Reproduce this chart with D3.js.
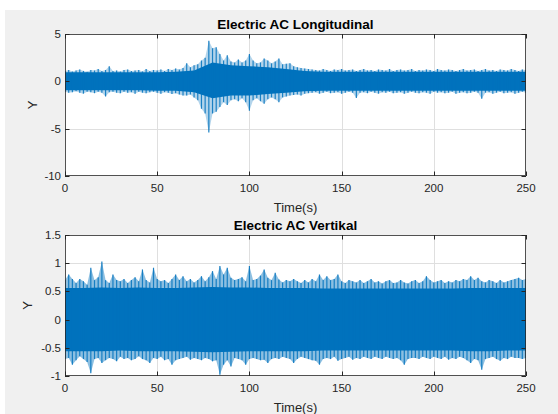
<!DOCTYPE html>
<html><head><meta charset="utf-8">
<script src="https://cdn.jsdelivr.net/npm/d3@7"></script>
<style>body{margin:0;background:#fff;}svg{display:block;}</style>
</head><body>
<script>
// ---------- DATA ----------
const timeDomain = [0, 250];
const xTicks = [0, 50, 100, 150, 200, 250];
const coreTimes = d3.range(0, 251, 10);          // knots of the dense core band (s)
const fringeTimes = d3.range(0, 251, 2);         // knots of the fringe peaks (s)

// Plot 1: Electric AC Longitudinal
const topTitle = "Electric AC Longitudinal";
const topYTicks = [-10, -5, 0, 5];
const topCoreHi = [0.95,0.95,0.95,0.95,0.95,0.95,1.0,1.15,2.0,1.7,1.6,1.5,1.3,1.1,1.0,1.0,1.0,1.0,1.0,1.0,1.0,1.0,1.0,1.0,1.0,1.0];
const topCoreLo = [-0.95,-0.95,-0.95,-0.95,-0.95,-1.0,-1.0,-1.15,-1.8,-1.5,-1.5,-1.35,-1.2,-1.05,-1.0,-1.0,-1.0,-1.0,-1.0,-1.0,-1.0,-1.0,-1.0,-1.0,-1.0,-1.0];
const topPeakHi = [1.1,1.2,1.05,1.15,1.25,1.1,1.0,1.2,1.15,1.3,1.1,1.2,1.6,1.1,1.15,1.05,1.2,1.25,1.1,1.15,1.2,1.05,1.3,1.1,1.2,1.15,1.25,1.1,1.3,1.2,1.35,1.25,1.4,
  1.9,1.5,1.7,1.8,2.2,2.5,4.3,
  3.5,3.6,2.9,2.2,2.75,2.1,2.0,2.3,2.0,2.2,2.9,
  2.2,1.9,2.0,2.4,2.2,1.9,2.1,2.4,1.8,1.85,1.9,1.6,1.5,1.4,1.35,
  1.3,1.25,1.2,1.15,1.3,1.2,1.1,1.25,1.2,1.3,1.15,1.2,1.25,1.1,1.2,1.3,1.15,1.2,1.1,1.25,1.2,1.15,1.3,1.1,1.2,1.25,1.15,1.2,1.3,1.1,
  1.2,1.15,1.25,1.2,1.1,1.3,1.2,1.15,1.25,1.2,1.1,1.2,1.3,1.15,1.2,1.25,1.1,1.2,1.3,1.15,1.2,1.1,1.25,1.2,1.15,1.3,1.2,1.1,1.25,1.2];
const topPeakLo = [-1.1,-1.2,-1.15,-1.05,-1.2,-1.3,-1.1,-1.15,-1.25,-1.1,-1.2,-1.6,-1.15,-1.1,-1.2,-1.25,-1.1,-1.2,-1.15,-1.3,-1.1,-1.2,-1.25,-1.15,-1.1,-1.2,-1.3,-1.15,-1.2,-1.35,-1.25,-1.4,-1.5,
  -1.5,-1.4,-1.7,-2.0,-2.9,-3.4,-5.4,
  -3.4,-3.2,-2.7,-2.2,-2.5,-2.0,-1.9,-2.1,-1.8,-2.2,-3.1,
  -2.0,-1.8,-2.1,-2.36,-1.9,-1.7,-1.9,-2.2,-1.7,-1.6,-1.5,-1.45,-1.4,-1.5,-1.3,
  -1.25,-1.2,-1.15,-1.3,-1.2,-1.1,-1.25,-1.2,-1.15,-1.3,-1.2,-1.1,-1.2,-1.76,-1.2,-1.15,-1.25,-1.1,-1.2,-1.3,-1.15,-1.2,-1.1,-1.25,-1.2,-1.15,-1.3,-1.2,-1.1,-1.2,
  -1.25,-1.15,-1.2,-1.3,-1.1,-1.2,-1.15,-1.25,-1.2,-1.1,-1.3,-1.2,-1.15,-1.25,-1.2,-1.1,-1.2,-1.83,-1.2,-1.15,-1.3,-1.2,-1.1,-1.25,-1.2,-1.15,-1.3,-1.2,-1.1,-1.2];

// Plot 2: Electric AC Vertikal
const botTitle = "Electric AC Vertikal";
const botYTicks = [-1, -0.5, 0, 0.5, 1, 1.5];
const botCoreHi = [0.56,0.56,0.57,0.56,0.57,0.56,0.56,0.57,0.58,0.57,0.57,0.56,0.56,0.56,0.55,0.55,0.55,0.55,0.55,0.55,0.55,0.55,0.56,0.56,0.56,0.56];
const botCoreLo = [-0.56,-0.56,-0.56,-0.55,-0.56,-0.56,-0.56,-0.57,-0.58,-0.57,-0.56,-0.56,-0.56,-0.56,-0.55,-0.55,-0.55,-0.55,-0.55,-0.55,-0.55,-0.55,-0.56,-0.56,-0.55,-0.55];
const botPeakHi = [0.7,0.8,0.72,0.65,0.72,0.68,0.62,0.92,0.7,0.75,1.03,
  0.7,0.65,0.8,0.7,0.68,0.72,0.65,0.7,0.75,0.68,0.89,0.7,0.66,0.92,0.72,0.68,0.7,0.65,0.72,0.8,
  0.7,0.77,0.68,0.72,0.66,0.7,0.77,0.68,0.75,0.86,0.72,0.95,0.8,0.92,0.74,0.7,0.72,0.75,0.68,0.95,
  0.7,0.72,0.78,0.89,0.74,0.7,0.83,0.71,0.66,0.7,0.68,0.72,0.68,0.65,0.7,0.66,0.72,0.68,0.8,0.7,
  0.77,0.7,0.72,0.8,0.68,0.65,0.7,0.68,0.66,0.7,0.65,0.68,0.72,0.66,0.68,0.64,0.68,0.7,0.65,0.66,
  0.7,0.66,0.64,0.68,0.7,0.65,0.68,0.77,0.7,0.66,0.68,0.7,0.65,0.68,0.66,0.7,0.68,0.72,0.7,0.77,
  0.7,0.74,0.68,0.66,0.7,0.68,0.65,0.7,0.66,0.68,0.7,0.72,0.74,0.7,0.72];
const botPeakLo = [-0.7,-0.68,-0.8,-0.72,-0.65,-0.7,-0.75,-0.95,-0.7,-0.68,-0.77,
  -0.72,-0.68,-0.7,-0.74,-0.66,-0.7,-0.68,-0.72,-0.7,-0.65,-0.7,-0.72,-0.77,-0.68,-0.7,-0.66,-0.72,-0.7,-0.8,-0.72,
  -0.7,-0.68,-0.66,-0.71,-0.68,-0.7,-0.72,-0.68,-0.7,-0.74,-0.72,-0.98,-0.8,-0.72,-0.83,-0.68,-0.7,-0.72,-0.8,-0.7,
  -0.68,-0.7,-0.72,-0.71,-0.77,-0.7,-0.68,-0.7,-0.66,-0.68,-0.7,-0.77,-0.7,-0.66,-0.68,-0.7,-0.72,-0.73,-0.8,-0.7,
  -0.68,-0.7,-0.66,-0.73,-0.7,-0.68,-0.66,-0.71,-0.68,-0.7,-0.66,-0.68,-0.7,-0.66,-0.68,-0.7,-0.66,-0.68,-0.7,-0.68,
  -0.72,-0.8,-0.7,-0.68,-0.68,-0.7,-0.66,-0.68,-0.7,-0.66,-0.68,-0.7,-0.66,-0.71,-0.68,-0.7,-0.66,-0.68,-0.72,-0.77,
  -0.7,-0.72,-0.89,-0.7,-0.68,-0.66,-0.7,-0.73,-0.68,-0.7,-0.66,-0.68,-0.68,-0.7,-0.68];

const xLabel = "Time(s)";
const yLabel = "Y";

// ---------- DRAWING ----------
const W = 558, H = 414;
const BLUE = "#0072BD", INK = "#262626", GRID = "#dfdfdf";
const FONT = "'Liberation Sans', Arial, Helvetica, sans-serif";

const svg = d3.select("body").append("svg").attr("width", W).attr("height", H);
svg.append("rect").attr("width", W).attr("height", H).attr("fill", "#fff");
svg.append("rect").attr("x", 5).attr("y", 10).attr("width", W - 5).attr("height", H - 10).attr("fill", "#f0f0f0");

function panel(cfg) {
  const {left, right, top, bottom, yDomain, yTicks, title, coreHi, coreLo, peakHi, peakLo, id, yLabX, fringeOpacity} = cfg;
  const x = d3.scaleLinear().domain(timeDomain).range([left, right]);
  const y = d3.scaleLinear().domain(yDomain).range([bottom, top]);
  const g = svg.append("g");
  g.append("rect").attr("x", left).attr("y", top).attr("width", right - left).attr("height", bottom - top).attr("fill", "#fff");

  // grid
  g.append("g").selectAll("line").data(xTicks.slice(1, -1)).join("line")
    .attr("x1", d => Math.round(x(d)) + 0.5).attr("x2", d => Math.round(x(d)) + 0.5).attr("y1", top).attr("y2", bottom)
    .attr("stroke", GRID).attr("stroke-width", 1);
  g.append("g").selectAll("line").data(yTicks.slice(1, -1)).join("line")
    .attr("y1", d => Math.round(y(d)) + 0.5).attr("y2", d => Math.round(y(d)) + 0.5).attr("x1", left).attr("x2", right)
    .attr("stroke", GRID).attr("stroke-width", 1);

  // data
  svg.append("clipPath").attr("id", id).append("rect")
    .attr("x", left).attr("y", top).attr("width", right - left).attr("height", bottom - top);
  const dg = g.append("g").attr("clip-path", `url(#${id})`);
  const fringe = fringeTimes.map((t, i) => ({t, hi: peakHi[i], lo: peakLo[i]}));
  // lighter fringe zone (peak envelope)
  dg.append("path").datum(fringe)
    .attr("d", d3.area().x(d => x(d.t)).y0(d => y(d.lo)).y1(d => y(d.hi)))
    .attr("fill", BLUE).attr("fill-opacity", fringeOpacity);
  // dense core
  const coreData = coreTimes.map((t, i) => ({t, hi: coreHi[i], lo: coreLo[i]}));
  dg.append("path").datum(coreData)
    .attr("d", d3.area().x(d => x(d.t)).y0(d => y(d.lo)).y1(d => y(d.hi)))
    .attr("fill", BLUE);
  // individual peaks
  dg.append("g").selectAll("line").data(fringe).join("line")
    .attr("x1", d => x(d.t)).attr("x2", d => x(d.t))
    .attr("y1", d => y(d.lo)).attr("y2", d => y(d.hi))
    .attr("stroke", BLUE).attr("stroke-width", 1.2).attr("stroke-opacity", 0.85);

  // frame
  g.append("rect").attr("x", left + 0.5).attr("y", top + 0.5).attr("width", right - left - 1).attr("height", bottom - top - 1)
    .attr("fill", "none").attr("stroke", INK).attr("stroke-opacity", 0.8).attr("stroke-width", 1);

  // ticks (inward, box)
  const tl = 4.5;
  const tk = g.append("g").attr("stroke", INK).attr("stroke-width", 1);
  xTicks.forEach(d => {
    const xx = Math.round(x(d)) + 0.5;
    tk.append("line").attr("x1", xx).attr("x2", xx).attr("y1", bottom).attr("y2", bottom - tl);
    tk.append("line").attr("x1", xx).attr("x2", xx).attr("y1", top).attr("y2", top + tl);
  });
  yTicks.forEach(d => {
    const yy = Math.round(y(d)) + 0.5;
    tk.append("line").attr("x1", left).attr("x2", left + tl).attr("y1", yy).attr("y2", yy);
    tk.append("line").attr("x1", right).attr("x2", right - tl).attr("y1", yy).attr("y2", yy);
  });

  // tick labels
  g.append("g").selectAll("text").data(xTicks).join("text")
    .attr("x", d => x(d)).attr("y", bottom + 16).attr("text-anchor", "middle")
    .attr("font-family", FONT).attr("font-size", 11.5).attr("fill", INK).text(d => d);
  g.append("g").selectAll("text").data(yTicks).join("text")
    .attr("x", left - 4).attr("y", d => y(d) + 4).attr("text-anchor", "end")
    .attr("font-family", FONT).attr("font-size", 11.5).attr("fill", INK).text(d => d);

  // title + labels
  g.append("text").attr("x", (left + right) / 2).attr("y", top - 5).attr("text-anchor", "middle")
    .attr("font-family", FONT).attr("font-size", 13.5).attr("font-weight", "bold").attr("fill", "#000").text(title);
  g.append("text").attr("x", (left + right) / 2).attr("y", bottom + 36).attr("text-anchor", "middle")
    .attr("font-family", FONT).attr("font-size", 13).attr("fill", INK).text(xLabel);
  g.append("text").attr("transform", `translate(${yLabX},${(top + bottom) / 2}) rotate(-90)`)
    .attr("text-anchor", "middle").attr("font-family", FONT).attr("font-size", 13).attr("fill", INK).text(yLabel);
}

panel({left: 65, right: 526, top: 34, bottom: 176, yDomain: [-10, 5], yTicks: topYTicks, title: topTitle,
  coreHi: topCoreHi, coreLo: topCoreLo, peakHi: topPeakHi, peakLo: topPeakLo, id: "c1", yLabX: 37, fringeOpacity: 0.3});
panel({left: 65, right: 526, top: 235, bottom: 376, yDomain: [-1, 1.5], yTicks: botYTicks, title: botTitle,
  coreHi: botCoreHi, coreLo: botCoreLo, peakHi: botPeakHi, peakLo: botPeakLo, id: "c2", yLabX: 32, fringeOpacity: 0.45});
</script>
</body></html>
